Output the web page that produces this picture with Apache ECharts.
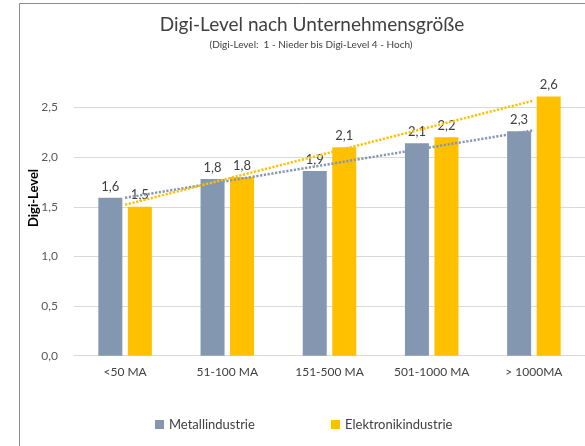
<!DOCTYPE html>
<html>
<head>
<meta charset="utf-8">
<script src="https://cdn.jsdelivr.net/npm/echarts@6/dist/echarts.min.js"></script>
<style>html,body{margin:0;padding:0;background:#fff;}#c{width:585px;height:446px;}</style>
</head>
<body>
<div id="c"></div>
<script>
var categories = ['<50 MA', '51-100 MA', '151-500 MA', '501-1000 MA', '> 1000MA'];
var metall = [1.59, 1.78, 1.86, 2.14, 2.26];
var elektronik = [1.50, 1.80, 2.10, 2.20, 2.61];
var metallTrend = [1.59, null, null, null, 2.27];
var elektronikTrend = [1.52, null, null, null, 2.57];
var seriesNames = ['Metallindustrie', 'Elektronikindustrie'];
var titleText = 'Digi-Level nach Unternehmensgröße';
var subtitleText = '(Digi-Level:  1 - Nieder bis Digi-Level 4 - Hoch)';
var yAxisTitle = 'Digi-Level';

var FONT = 'Lato, "Open Sans", sans-serif';
var cMetall = '#8497b0', cElek = '#ffc000';
function fmt(v) { return v.toFixed(1).replace('.', ','); }

var chart = echarts.init(document.getElementById('c'), null, { renderer: 'canvas' });
chart.setOption({
  animation: false,
  backgroundColor: '#fff',
  textStyle: { fontFamily: FONT },
  graphic: [
    { type: 'rect', shape: { x: 19.5, y: 3.5, width: 800, height: 800 }, style: { fill: null, stroke: '#8c8c8c', lineWidth: 1 }, silent: true },
    { type: 'text', x: 312, y: 25, style: { text: titleText, font: '19px ' + FONT, fill: '#404040', align: 'center', verticalAlign: 'middle' } },
    { type: 'text', x: 311, y: 45, style: { text: subtitleText, font: '10px ' + FONT, fill: '#404040', align: 'center', verticalAlign: 'middle' } },
    { type: 'text', x: 34, y: 198, rotation: Math.PI / 2, style: { text: yAxisTitle, font: 'bold 13px ' + FONT, fill: '#000', align: 'center', verticalAlign: 'middle' } }
  ],
  legend: [
    { data: [seriesNames[0]], left: 150, top: 413, icon: 'rect', itemWidth: 9, itemHeight: 9, textStyle: { fontSize: 13, color: '#404040', fontFamily: FONT } },
    { data: [seriesNames[1]], left: 326, top: 413, icon: 'rect', itemWidth: 9, itemHeight: 9, textStyle: { fontSize: 13, color: '#404040', fontFamily: FONT } }
  ],
  grid: { left: 74, top: 77.7, width: 521, height: 278, containLabel: false },
  xAxis: {
    type: 'category', data: categories,
    axisLine: { show: true, lineStyle: { color: '#d9d9d9', width: 1 } },
    axisTick: { show: false },
    axisLabel: { color: '#404040', fontSize: 12, margin: 10, fontFamily: FONT }
  },
  yAxis: {
    type: 'value', min: 0, max: 2.8, interval: 0.5,
    axisLine: { show: false }, axisTick: { show: false },
    splitLine: { show: true, showMaxLine: false, lineStyle: { color: '#d9d9d9', width: 1 } },
    axisLabel: { color: '#595959', fontSize: 12, margin: 16, showMaxLabel: false, formatter: function (v) { return fmt(v); }, fontFamily: FONT }
  },
  series: [
    { name: seriesNames[0], type: 'bar', data: metall, barWidth: 24, barGap: '23%', itemStyle: { color: cMetall },
      label: { show: true, position: 'top', distance: 5, color: '#404040', fontSize: 13, fontFamily: FONT, formatter: function (p) { return fmt(p.value); } } },
    { name: seriesNames[1], type: 'bar', data: elektronik, barWidth: 24, barGap: '23%', itemStyle: { color: cElek },
      label: { show: true, position: 'top', distance: 5, color: '#404040', fontSize: 13, fontFamily: FONT, formatter: function (p) { return fmt(p.value); } } },
    { name: 'TrendMetall', type: 'line', data: metallTrend, connectNulls: true, symbol: 'none', z: 3,
      lineStyle: { color: cMetall, width: 2.5, type: [2.2, 1.6], cap: 'butt' } },
    { name: 'TrendElek', type: 'line', data: elektronikTrend, connectNulls: true, symbol: 'none', z: 3,
      lineStyle: { color: cElek, width: 2.5, type: [2.2, 1.6], cap: 'butt' } }
  ]
});
</script>
</body>
</html>
